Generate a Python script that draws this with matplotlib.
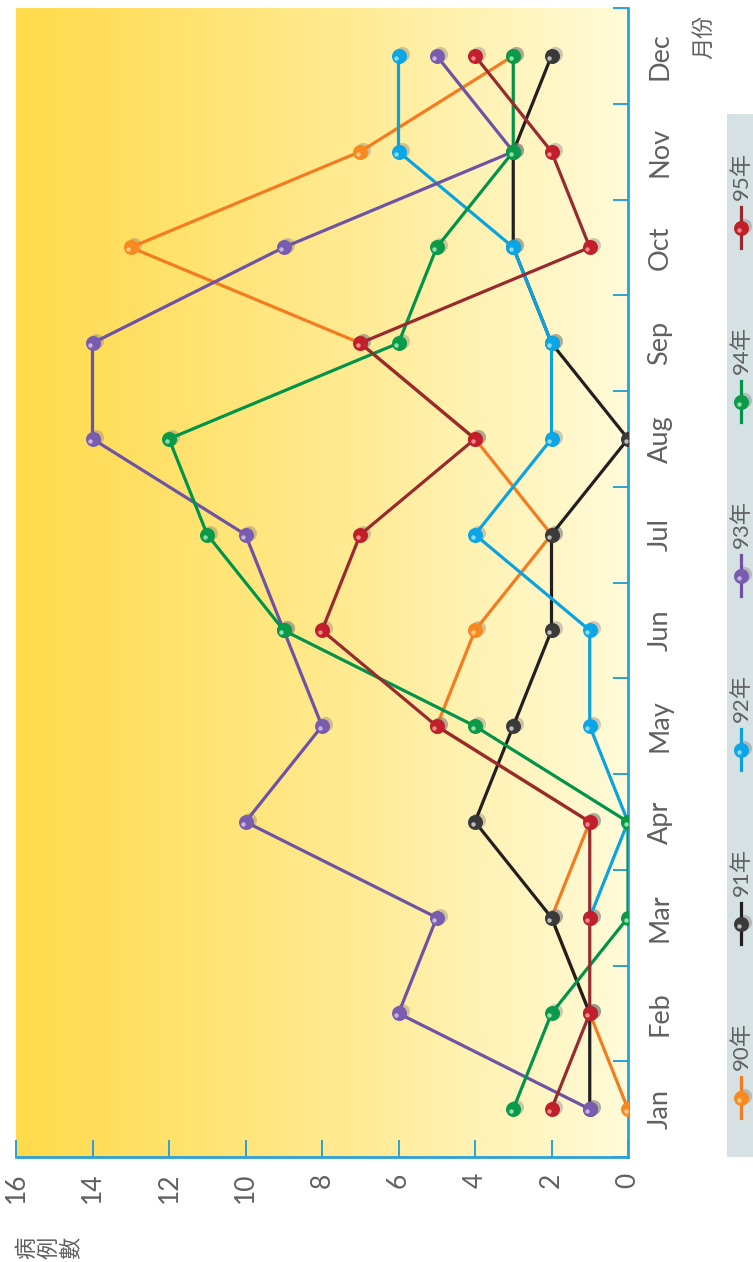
import numpy as np
import matplotlib
matplotlib.use("Agg")
import matplotlib.pyplot as plt
import matplotlib.transforms as mtransforms
from matplotlib.colors import LinearSegmentedColormap

# Monthly case counts per year (nan = no record that month)
months = ["Jan", "Feb", "Mar", "Apr", "May", "Jun",
          "Jul", "Aug", "Sep", "Oct", "Nov", "Dec"]
years = ["90年", "91年", "92年", "93年", "94年", "95年"]
cases_90 = [0, 1, 2, 1, 5, 4, 2, 4, 7, 13, 7, 3]
cases_91 = [1, 1, 2, 4, 3, 2, 2, 0, 2, 3, 3, 2]
cases_92 = [np.nan, np.nan, 1, 0, 1, 1, 4, 2, 2, 3, 6, 6]
cases_93 = [1, 6, 5, 10, 8, 9, 10, 14, 14, 9, 3, 5]
cases_94 = [3, 2, 0, 0, 4, 9, 11, 12, 6, 5, 3, 3]
cases_95 = [2, 1, 1, 1, 5, 8, 7, 4, 7, 1, 2, 4]
value_ticks = [0, 2, 4, 6, 8, 10, 12, 14, 16]

series = [cases_90, cases_91, cases_92, cases_93, cases_94, cases_95]
line_colors = ["#F47B20", "#231F20", "#0AA3E0", "#6E52A3", "#00944A", "#962A2E"]
marker_colors = ["#F7891E", "#3A3A3A", "#0AA6E6", "#7A5CAE", "#0A9A48", "#C1202B"]
highlight_colors = ["#FFC98A", "#BDBDBD", "#8FDBFF", "#C6B3E6", "#8FE0AE", "#F08A8E"]

LATIN = "Lato"
CJK = "Noto Sans CJK TC"
TXT = "#606060"
AXIS_BLUE = "#2AA0DA"

W, H = 753, 1262
fig = plt.figure(figsize=(W / 100, H / 100), dpi=100)
fig.patch.set_facecolor("white")

# plot area (pixel box: x 16..628, y 8..1157)
ax = fig.add_axes([16 / W, (H - 1157) / H, (628 - 16) / W, (1157 - 8) / H])
ax.set_facecolor("none")

# warm horizontal gradient behind the lines
grad_cmap = LinearSegmentedColormap.from_list(
    "warm", ["#FFDA4A", "#FFE98C", "#FFFBD9"])
ax.imshow(np.linspace(0, 1, 256)[None, :], cmap=grad_cmap, aspect="auto",
          extent=(0, 1, 0, 1), transform=ax.transAxes, zorder=0)

ypos = np.arange(len(months))
shadow_tr = mtransforms.offset_copy(ax.transData, fig=fig, x=3, y=2, units="dots")
hl_tr = mtransforms.offset_copy(ax.transData, fig=fig, x=-2.5, y=-2.0, units="dots")

for i, vals in enumerate(series):
    z = 3 + i * 4
    ax.plot(vals, ypos, ls="none", marker="o", ms=10.8, color="#808080",
            alpha=0.4, mec="none", transform=shadow_tr, zorder=z)
    ax.plot(vals, ypos, color=line_colors[i], lw=2.3, zorder=z + 1,
            solid_capstyle="round")
    ax.plot(vals, ypos, ls="none", marker="o", ms=10.8,
            color=marker_colors[i], mec="none", zorder=z + 2)
    ax.plot(vals, ypos, ls="none", marker="o", ms=3.2,
            color=highlight_colors[i], mec="none", transform=hl_tr,
            zorder=z + 3)

ax.set_xlim(16, 0)
ax.set_ylim(-0.5, len(months) - 0.5)

for side in ("top", "left"):
    ax.spines[side].set_visible(False)
for side in ("right", "bottom"):
    ax.spines[side].set_color(AXIS_BLUE)
    ax.spines[side].set_linewidth(2)

# value axis along the bottom
ax.set_xticks(value_ticks)
ax.set_xticklabels([str(v) for v in value_ticks], rotation=90,
                   fontsize=19, color=TXT, family=LATIN)
ax.tick_params(axis="x", direction="in", length=12, width=1.4,
               color=AXIS_BLUE, pad=11)

# month axis along the right
ax.yaxis.tick_right()
ax.set_yticks(np.arange(len(months) + 1) - 0.5)
ax.set_yticklabels([])
ax.tick_params(axis="y", which="major", direction="in", length=11,
               width=1.4, color=AXIS_BLUE, left=False, right=True)
ax.set_yticks(ypos, minor=True)
ax.set_yticklabels(months, minor=True, rotation=90, va="center",
                   fontsize=19.5, color=TXT, family=LATIN)
ax.tick_params(axis="y", which="minor", length=0, pad=14,
               left=False, right=True, labelright=True, labelleft=False)

# axis titles
fig.text(15 / W, (H - 1259) / H, "病\n例\n數", rotation=90, ha="left",
         va="bottom", fontsize=16, color=TXT, family=[CJK],
         linespacing=0.95)
fig.text(704 / W, (H - 37) / H, "月份", rotation=90, ha="center",
         va="center", fontsize=16, color=TXT, family=[CJK])

# legend strip on the right edge
lax = fig.add_axes([727 / W, (H - 1157) / H, (W - 727) / W, (1157 - 114) / H])
lax.set_xlim(727, W)
lax.set_ylim(1157, 114)
lax.set_facecolor("#D6E1E3")
for s in lax.spines.values():
    s.set_visible(False)
lax.set_xticks([])
lax.set_yticks([])

l_shadow = mtransforms.offset_copy(lax.transData, fig=fig, x=3, y=2, units="dots")
l_hl = mtransforms.offset_copy(lax.transData, fig=fig, x=-2.5, y=-2.0, units="dots")
entry_x = 741
for i, name in enumerate(years):
    cy = 1098 - i * 174
    lax.plot([entry_x, entry_x], [cy + 20, cy - 21], color=line_colors[i],
             lw=2.3, zorder=2)
    lax.plot([entry_x], [cy], ls="none", marker="o", ms=10.8, color="#808080",
             alpha=0.4, mec="none", transform=l_shadow, zorder=1)
    lax.plot([entry_x], [cy], ls="none", marker="o", ms=10.8,
             color=marker_colors[i], mec="none", zorder=3)
    lax.plot([entry_x], [cy], ls="none", marker="o", ms=3.2,
             color=highlight_colors[i], mec="none", transform=l_hl, zorder=4)
    lax.text(entry_x, cy - 28, name, rotation=90, ha="center", va="bottom",
             fontsize=16, color=TXT, family=[LATIN, CJK], clip_on=False)

fig.savefig("out.png", dpi=100)
